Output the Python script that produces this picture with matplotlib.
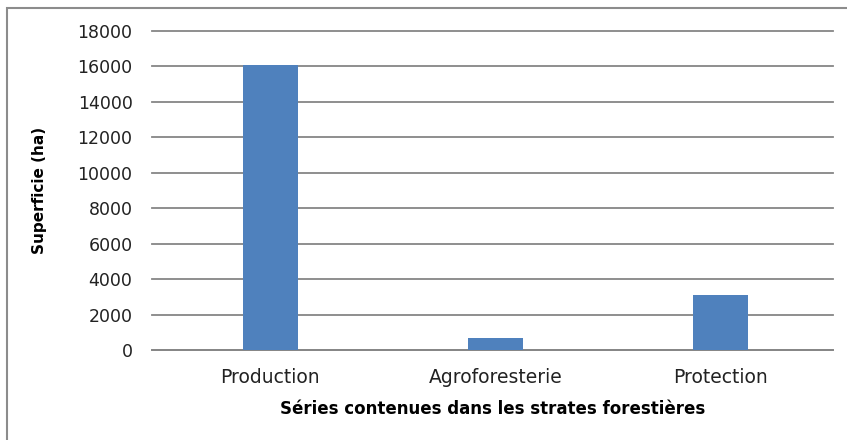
import numpy as np
import matplotlib
matplotlib.use("Agg")
import matplotlib.pyplot as plt
from matplotlib.patches import Rectangle

# values
categories = ["Production", "Agroforesterie", "Protection"]
superficie = [16100, 650, 3100]
y_ticks = [0, 2000, 4000, 6000, 8000, 10000, 12000, 14000, 16000, 18000]

W, H = 847, 440
fig = plt.figure(figsize=(W / 100, H / 100), dpi=100)
plt.rcParams['font.family'] = ['DejaVu Sans']

# grey outer frame (cut off at right and bottom like the original)
fig.patches.append(Rectangle((7 / W, -0.1), 1.2, 1 - 8 / H + 0.1,
                             transform=fig.transFigure, fill=False,
                             edgecolor="#8c8c8c", linewidth=1.5))

ax = fig.add_axes([152 / W, 1 - 350 / H, (833 - 152) / W, (350 - 31) / H])
x = np.arange(len(categories))
ax.bar(x, superficie, width=0.245, color="#4f81bd", zorder=3)

ax.set_xlim(-0.525, len(categories) - 0.5)
ax.set_ylim(0, 18000)
ax.set_yticks(y_ticks)
ax.set_yticklabels([str(v) for v in y_ticks], fontsize=12.5, color="#222222")
ax.set_xticks(x)
ax.set_xticklabels(categories, fontsize=13.5, color="#222222")
ax.tick_params(axis="both", length=0)
ax.tick_params(axis="y", pad=14)
ax.tick_params(axis="x", pad=13)

ax.grid(axis="y", color="#868686", linewidth=1.3, zorder=0)
for gl in ax.get_ygridlines():
    gl.set_clip_on(False)
for side in ["top", "right", "left"]:
    ax.spines[side].set_visible(False)
ax.spines["bottom"].set_color("#868686")
ax.spines["bottom"].set_linewidth(1.3)

ax.set_ylabel("Superficie (ha)", fontsize=11, fontweight="bold", labelpad=22)
ax.set_xlabel("Séries contenues dans les strates forestières", fontsize=12,
              fontweight="bold", labelpad=9)

fig.savefig("out.png", dpi=100)
